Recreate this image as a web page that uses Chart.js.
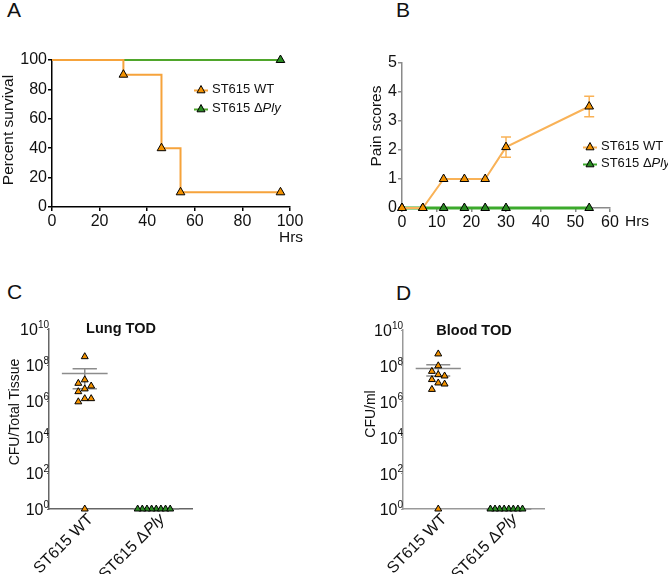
<!DOCTYPE html>
<html>
<head>
<meta charset="utf-8">
<script src="https://cdn.jsdelivr.net/npm/chart.js@4.4.1/dist/chart.umd.min.js"></script>
<style>
  html, body { margin: 0; padding: 0; background: #fff; }
  body { width: 668px; height: 574px; position: relative; overflow: hidden; font-family: "Liberation Sans", Arial, sans-serif; color: #111; }
  canvas { position: absolute; }
  .txt { position: absolute; white-space: nowrap; line-height: 1; }
  .letter { font-size: 21px; }
  .center { transform: translate(-50%, -50%); }
  .ytitle { position: absolute; white-space: nowrap; line-height: 1; transform: translate(-50%, -50%) rotate(-90deg); }
  .legend { position: absolute; font-size: 13px; line-height: 1; }
  .legend div { display: flex; align-items: center; white-space: nowrap; }
  .legend svg { margin-right: 4px; }
</style>
</head>
<body>
<div class="txt letter" style="left:7px;top:-1px">A</div>
<div class="txt letter" style="left:396px;top:-1px">B</div>
<div class="txt letter" style="left:7px;top:281px">C</div>
<div class="txt letter" style="left:396px;top:282px">D</div>

<canvas id="chartA" width="334" height="260" style="left:0;top:0"></canvas>
<canvas id="chartB" width="334" height="260" style="left:334px;top:0"></canvas>
<canvas id="chartC" width="334" height="294" style="left:0;top:280px"></canvas>
<canvas id="chartD" width="334" height="294" style="left:334px;top:280px"></canvas>

<div class="ytitle" style="left:8px;top:130px;font-size:15.5px">Percent survival</div>
<div class="ytitle" style="left:376px;top:126px;font-size:15.5px">Pain scores</div>
<div class="ytitle" style="left:14px;top:412px;font-size:14px">CFU/Total Tissue</div>
<div class="ytitle" style="left:370px;top:414px;font-size:14px">CFU/ml</div>

<div class="txt" style="left:279px;top:229px;font-size:15.5px">Hrs</div>
<div class="txt" style="left:625px;top:213px;font-size:15.5px">Hrs</div>

<div class="txt center" style="left:121px;top:328px;font-size:14.5px;font-weight:bold">Lung TOD</div>
<div class="txt center" style="left:474px;top:330px;font-size:14.5px;font-weight:bold">Blood TOD</div>

<div class="legend" id="legendA" style="left:194px;top:79px"></div>
<div class="legend" id="legendB" style="left:583px;top:137px"></div>

<script>
// ---- data ----
// A: survival (%)
const survHours = [0, 30, 46, 54, 96];
const survWT = [100, 90, 40, 10, 10];
const survPlyHours = [0, 96];
const survPly = [100, 100];
const survTicksX = [0, 20, 40, 60, 80, 100];
const survTicksY = [0, 20, 40, 60, 80, 100];

// B: pain scores (mean, SEM)
const painHours = [0, 6, 12, 18, 24, 30, 54];
const painWT = [0, 0, 1, 1, 1, 2.1, 3.5];
const painWTsem = [0, 0, 0, 0, 0, 0.35, 0.35];
const painPly = [0, 0, 0, 0, 0, 0, 0];
const painTicksX = [0, 10, 20, 30, 40, 50, 60];
const painTicksY = [0, 1, 2, 3, 4, 5];

// C / D: CFU at time of death (below detection plotted at 10^0)
const groups = ['ST615 WT', 'ST615 ΔPly'];
const lungWT = [2.9e8, 1.5e7, 9.6e6, 6.8e6, 4.7e6, 3.3e6, 1.35e6, 1.35e6, 9e5, 1];
const lungPly = [1, 1, 1, 1, 1, 1, 1, 1];
const bloodWT = [4.6e8, 1e8, 4.9e7, 3.2e7, 2.7e7, 1.7e7, 1.1e7, 9.6e6, 4.8e6, 1];
const bloodPly = [1, 1, 1, 1, 1, 1, 1, 1];
const cfuTicks = [1, 1e2, 1e4, 1e6, 1e8, 1e10];

// ---- styles ----
const FONT = '"Liberation Sans", Arial, sans-serif';
const ORANGE = '#F39200';
const ORANGE_LINE = '#F6A33B';
const ORANGE_LINE_B = '#F9B257';
const GREEN = '#2A8A22';
const GREEN_LINE = '#4FA62B';
const GREEN_LINE_B = '#3CAA2C';

Chart.defaults.font.family = FONT;
Chart.defaults.color = '#111';

function symbolSvg(line, fill) {
  return `<svg width="14" height="10" viewBox="0 0 14 10"><line x1="0" y1="6.5" x2="14" y2="6.5" stroke="${line}" stroke-width="2"/>` +
    `<polygon points="7,1.5 11,8.8 3,8.8" fill="${fill}" stroke="#000" stroke-width="1"/></svg>`;
}
function labelHtml(name) {
  const i = name.indexOf('Δ');
  return i < 0 ? name : name.slice(0, i + 1) + '<i>' + name.slice(i + 1) + '</i>';
}
document.getElementById('legendA').innerHTML =
  `<div style="height:19px">${symbolSvg(ORANGE_LINE, ORANGE)}${labelHtml(groups[0])}</div>` +
  `<div style="height:19px">${symbolSvg(GREEN_LINE, GREEN)}${labelHtml(groups[1])}</div>`;
document.getElementById('legendB').innerHTML =
  `<div style="height:17px">${symbolSvg(ORANGE_LINE_B, ORANGE)}${labelHtml(groups[0])}</div>` +
  `<div style="height:17px">${symbolSvg(GREEN_LINE_B, GREEN)}${labelHtml(groups[1])}</div>`;

function linearAxis(min, max, ticks, size, color) {
  return {
    type: 'linear', min, max,
    afterBuildTicks: s => { s.ticks = ticks.map(v => ({ value: v })); },
    afterFit: s => { if (s.isHorizontal()) s.height = size; else s.width = size; },
    border: { color, width: 1.5 },
    grid: { drawOnChartArea: false, tickLength: 4, color, lineWidth: 1.5 },
    ticks: { color: '#111', font: { size: 16 }, padding: 1, maxRotation: 0, autoSkip: false }
  };
}

const baseOptions = (pad) => ({
  animation: false, responsive: false,
  layout: { padding: pad },
  plugins: { legend: { display: false }, tooltip: { enabled: false } }
});

// ---- A: survival ----
new Chart(document.getElementById('chartA'), {
  type: 'line',
  data: {
    datasets: [
      {
        label: groups[0],
        data: survHours.map((h, i) => ({ x: h, y: survWT[i] })),
        stepped: 'before', borderColor: ORANGE_LINE, borderWidth: 2,
        pointStyle: 'triangle', pointRadius: survHours.map(h => h === 0 ? 0 : 5),
        pointBackgroundColor: ORANGE, pointBorderColor: '#000', pointBorderWidth: 1, clip: false
      },
      {
        label: groups[1],
        data: survPlyHours.map((h, i) => ({ x: h, y: survPly[i] })),
        borderColor: GREEN_LINE, borderWidth: 2,
        pointStyle: 'triangle', pointRadius: survPlyHours.map(h => h === 0 ? 0 : 5),
        pointBackgroundColor: GREEN, pointBorderColor: '#000', pointBorderWidth: 1, clip: false
      }
    ]
  },
  options: Object.assign(baseOptions({ top: 60, right: 44, bottom: 0, left: 0 }), {
    scales: {
      x: linearAxis(0, 100, survTicksX, 53, '#000'),
      y: linearAxis(0, 100, survTicksY, 52, '#000')
    }
  })
});

// ---- B: pain scores ----
function errorBars(xs, ys, sems, color) {
  return {
    id: 'errorBars',
    beforeDatasetsDraw(chart) {
      const { ctx, scales: { x, y } } = chart;
      ctx.save();
      ctx.strokeStyle = color;
      ctx.lineWidth = 1.5;
      xs.forEach((h, i) => {
        const e = sems[i];
        if (!e) return;
        const px = x.getPixelForValue(h);
        const top = y.getPixelForValue(ys[i] + e);
        const bot = y.getPixelForValue(ys[i] - e);
        ctx.beginPath();
        ctx.moveTo(px, top); ctx.lineTo(px, bot);
        ctx.moveTo(px - 5, top); ctx.lineTo(px + 5, top);
        ctx.moveTo(px - 5, bot); ctx.lineTo(px + 5, bot);
        ctx.stroke();
      });
      ctx.restore();
    }
  };
}

new Chart(document.getElementById('chartB'), {
  type: 'line',
  data: {
    datasets: [
      {
        label: groups[0],
        data: painHours.map((h, i) => ({ x: h, y: painWT[i] })),
        borderColor: ORANGE_LINE_B, borderWidth: 2,
        pointStyle: 'triangle', pointRadius: 5,
        pointBackgroundColor: ORANGE, pointBorderColor: '#000', pointBorderWidth: 1, clip: false
      },
      {
        label: groups[1],
        data: painHours.map((h, i) => ({ x: h, y: painPly[i] })),
        borderColor: GREEN_LINE_B, borderWidth: 3,
        pointStyle: 'triangle', pointRadius: 5,
        pointBackgroundColor: GREEN, pointBorderColor: '#000', pointBorderWidth: 1, clip: false
      }
    ]
  },
  options: Object.assign(baseOptions({ top: 63, right: 58, bottom: 0, left: 0 }), {
    scales: {
      x: linearAxis(0, 60, painTicksX, 52, '#8a8a8a'),
      y: linearAxis(0, 5, painTicksY, 68, '#8a8a8a')
    }
  }),
  plugins: [errorBars(painHours, painWT, painWTsem, ORANGE_LINE_B)]
});

// ---- C / D: CFU scatter ----
// simple beeswarm: spread points sideways when their log values are close
function swarm(values, center, step) {
  const placed = [];
  const order = [0, -1, 1, -2, 2, -3, 3, -4, 4, -5, 5];
  return values.map(v => {
    const ly = Math.log10(v);
    const k = order.find(o => !placed.some(p => p.k === o && Math.abs(p.ly - ly) < 0.4));
    placed.push({ k, ly });
    return { x: center + k * step, y: v };
  });
}

function meanSem(values) {
  const n = values.length;
  const m = values.reduce((a, b) => a + b, 0) / n;
  const sd = Math.sqrt(values.reduce((a, b) => a + (b - m) * (b - m), 0) / (n - 1));
  return { m, sem: sd / Math.sqrt(n) };
}

function meanSemPlugin(sets, color) {
  return {
    id: 'meanSem',
    beforeDatasetsDraw(chart) {
      const { ctx, scales: { x, y } } = chart;
      ctx.save();
      ctx.strokeStyle = color;
      ctx.lineWidth = 1.5;
      sets.forEach((vals, gi) => {
        const c = gi + 1;
        const { m, sem } = meanSem(vals);
        const py = y.getPixelForValue(m);
        ctx.beginPath();
        ctx.moveTo(x.getPixelForValue(c - 0.32), py);
        ctx.lineTo(x.getPixelForValue(c + 0.32), py);
        if (sem > 0) {
          const pt = y.getPixelForValue(m + sem);
          const pb = y.getPixelForValue(Math.max(m - sem, 1));
          const px = x.getPixelForValue(c);
          ctx.moveTo(px, pt); ctx.lineTo(px, pb);
          ctx.moveTo(x.getPixelForValue(c - 0.17), pt); ctx.lineTo(x.getPixelForValue(c + 0.17), pt);
          ctx.moveTo(x.getPixelForValue(c - 0.17), pb); ctx.lineTo(x.getPixelForValue(c + 0.17), pb);
        }
        ctx.stroke();
      });
      ctx.restore();
    }
  };
}

const axisLabels = {
  id: 'axisLabels',
  afterDraw(chart) {
    const { ctx, scales: { x, y } } = chart;
    ctx.save();
    ctx.fillStyle = '#111';
    // powers of ten on the y axis
    ctx.textBaseline = 'middle';
    y.ticks.forEach(t => {
      const py = y.getPixelForValue(t.value);
      const exp = String(Math.round(Math.log10(t.value)));
      ctx.font = '10px ' + FONT;
      const ew = ctx.measureText(exp).width;
      const right = y.right;
      ctx.textAlign = 'left';
      ctx.fillText(exp, right - ew, py - 4);
      ctx.font = '16px ' + FONT;
      ctx.textAlign = 'right';
      ctx.fillText('10', right - ew, py + 2);
    });
    // rotated group names
    groups.forEach((name, gi) => {
      const px = x.getPixelForValue(gi + 1);
      ctx.save();
      ctx.translate(px + 6, y.bottom + 8);
      ctx.rotate(-Math.PI / 4);
      ctx.textAlign = 'right';
      ctx.textBaseline = 'middle';
      const i = name.indexOf('Δ');
      if (i >= 0) {
        const tail = name.slice(i + 1);
        ctx.font = 'italic 16px ' + FONT;
        const w = ctx.measureText(tail).width;
        ctx.fillText(tail, 0, 0);
        ctx.font = '16px ' + FONT;
        ctx.fillText(name.slice(0, i + 1), -w - 1, 0);
      } else {
        ctx.font = '16px ' + FONT;
        ctx.fillText(name, 0, 0);
      }
      ctx.restore();
    });
    ctx.restore();
  }
};

function cfuChart(id, wt, ply, pad, yWidth, axisColor) {
  new Chart(document.getElementById(id), {
    type: 'scatter',
    data: {
      datasets: [
        {
          label: groups[0], data: swarm(wt, 1, 0.09),
          pointStyle: 'triangle', pointRadius: 4,
          pointBackgroundColor: ORANGE, pointBorderColor: '#000', pointBorderWidth: 1, clip: false
        },
        {
          label: groups[1], data: swarm(ply, 2, 0.065),
          pointStyle: 'triangle', pointRadius: 4,
          pointBackgroundColor: GREEN, pointBorderColor: '#000', pointBorderWidth: 1, clip: false
        }
      ]
    },
    options: Object.assign(baseOptions(pad), {
      scales: {
        x: {
          type: 'linear', min: 0.5, max: 2.5,
          afterFit: s => { s.height = 65; },
          border: { color: axisColor, width: 1.5 },
          grid: { display: false },
          ticks: { display: false }
        },
        y: {
          type: 'logarithmic', min: 1, max: 1e10,
          afterBuildTicks: s => { s.ticks = cfuTicks.map(v => ({ value: v })); },
          afterFit: s => { s.width = yWidth; },
          border: { color: axisColor, width: 1.5 },
          grid: { drawOnChartArea: false, tickLength: 2, color: axisColor },
          ticks: { callback: () => '', padding: 0 }
        }
      }
    }),
    plugins: [meanSemPlugin([wt, ply], '#8c8c8c'), axisLabels]
  });
}

cfuChart('chartC', lungWT, lungPly, { top: 49, right: 142, bottom: 0, left: 0 }, 49, '#666');
cfuChart('chartD', bloodWT, bloodPly, { top: 50, right: 124, bottom: 0, left: 0 }, 69, '#999');
</script>
</body>
</html>
